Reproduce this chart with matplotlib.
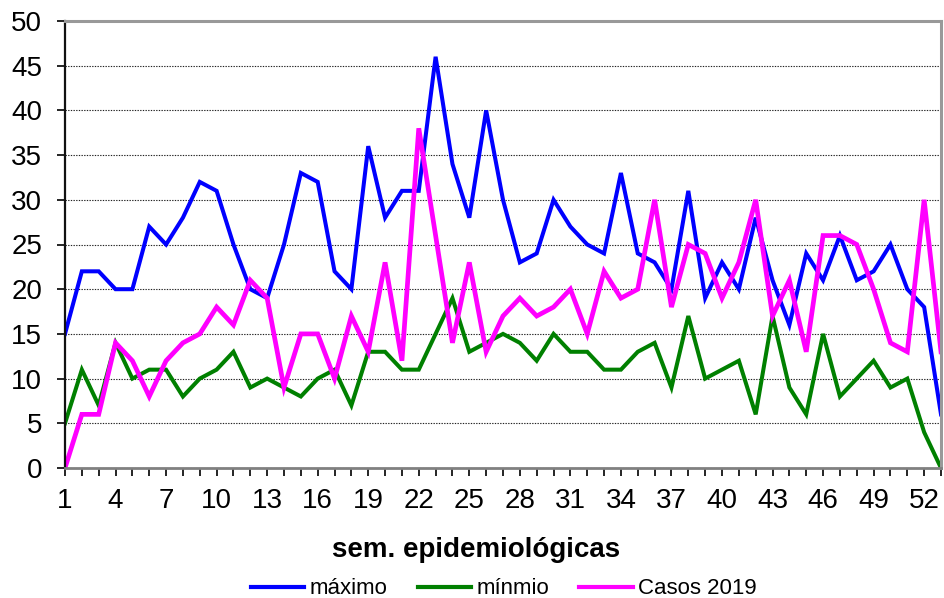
import matplotlib
matplotlib.use("Agg")
import matplotlib.pyplot as plt
from matplotlib.ticker import MultipleLocator

plt.rcParams['font.family'] = ['Liberation Sans', 'DejaVu Sans']

weeks = list(range(1, 54))
maximo = [15, 22, 22, 20, 20, 27, 25, 28, 32, 31, 25, 20, 19, 25, 33, 32, 22, 20, 36, 28,
          31, 31, 46, 34, 28, 40, 30, 23, 24, 30, 27, 25, 24, 33, 24, 23, 20, 31, 19, 23,
          20, 28, 21, 16, 24, 21, 26, 21, 22, 25, 20, 18, 6]
minimo = [5, 11, 7, 14, 10, 11, 11, 8, 10, 11, 13, 9, 10, 9, 8, 10, 11, 7, 13, 13,
          11, 11, 15, 19, 13, 14, 15, 14, 12, 15, 13, 13, 11, 11, 13, 14, 9, 17, 10, 11,
          12, 6, 17, 9, 6, 15, 8, 10, 12, 9, 10, 4, 0]
casos2019 = [0, 6, 6, 14, 12, 8, 12, 14, 15, 18, 16, 21, 19, 9, 15, 15, 10, 17, 13, 23,
             12, 38, 26, 14, 23, 13, 17, 19, 17, 18, 20, 15, 22, 19, 20, 30, 18, 25, 24, 19,
             23, 30, 17, 21, 13, 26, 26, 25, 20, 14, 13, 30, 13]
series_names = ["máximo", "mínmio", "Casos 2019"]
xtick_labels = [str(w) for w in range(1, 54, 3)]

W, H = 944, 598
fig = plt.figure(figsize=(W / 100, H / 100), dpi=100)
ax = fig.add_axes([65 / W, 1 - 468 / H, (941 - 65) / W, (468 - 21) / H])

ax.plot(weeks, maximo, color='#0000FF', lw=2.9, label=series_names[0], solid_joinstyle='miter')
ax.plot(weeks, minimo, color='#008000', lw=2.9, label=series_names[1], solid_joinstyle='miter')
ax.plot(weeks, casos2019, color='#FF00FF', lw=3.4, label=series_names[2], solid_joinstyle='miter')

ax.set_xlim(1, 53)
ax.set_ylim(0, 50)
ax.set_xticks(range(1, 54, 3))
ax.set_xticklabels(xtick_labels)
ax.xaxis.set_minor_locator(MultipleLocator(1))
ax.yaxis.set_major_locator(MultipleLocator(5))

ax.tick_params(axis='x', which='both', direction='out', length=5.5, width=1.2,
               colors='black', labelsize=20, pad=9)
ax.tick_params(axis='y', which='major', direction='out', length=5.5, width=1.2,
               colors='black', labelsize=20, pad=11)

ax.yaxis.grid(True, linestyle=(0, (1.2, 1.2)), color='#222222', lw=0.8)
ax.set_axisbelow(True)

for side in ['top', 'right']:
    ax.spines[side].set_color('#999999')
    ax.spines[side].set_linewidth(2.2)
ax.spines['left'].set_color('#111111')
ax.spines['left'].set_linewidth(1.6)
ax.spines['bottom'].set_color('#808080')
ax.spines['bottom'].set_linewidth(2.0)

fig.text(476 / W, 1 - 550 / H, "sem. epidemiológicas", ha='center', va='center',
         fontsize=20, fontweight='bold')

leg = fig.legend(loc='center', bbox_to_anchor=(504 / W, 1 - 589 / H), ncol=3, frameon=False,
                 fontsize=16, handlelength=2.4, handletextpad=0.25, columnspacing=1.35,
                 borderaxespad=0, borderpad=0)
for line in leg.get_lines():
    line.set_linewidth(3)

fig.savefig("out.png", dpi=100)
